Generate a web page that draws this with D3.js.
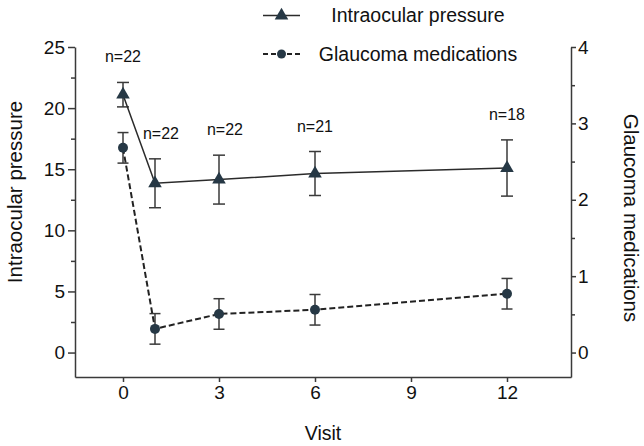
<!DOCTYPE html>
<html><head><meta charset="utf-8">
<script src="https://cdn.jsdelivr.net/npm/d3@7"></script>
<style>
body{margin:0;background:#fff}
svg{display:block;font-family:"Liberation Sans",Arial,Helvetica,sans-serif}
</style></head>
<body><svg id="c" width="644" height="446"></svg>
<script>
const visits = [0, 1, 3, 6, 12];
const iopMean = [21.1, 13.85, 14.15, 14.65, 15.1];
const iopErr = [1.0, 2.0, 2.0, 1.8, 2.3];
const medMean = [2.68, 0.31, 0.505, 0.56, 0.77];
const medErr = [0.2, 0.2, 0.2, 0.2, 0.2];
const nLabels = ["n=22", "n=22", "n=22", "n=21", "n=18"];
const xTicks = [0, 3, 6, 9, 12];
const leftTicks = [0, 5, 10, 15, 20, 25];
const leftMinor = [2.5, 7.5, 12.5, 17.5, 22.5];
const rightTicks = [0, 1, 2, 3, 4];
const rightMinor = [0.5, 1.5, 2.5, 3.5];
const seriesNames = ["Intraocular pressure", "Glaucoma medications"];

const svg = d3.select("#c");
const x = d3.scaleLinear([-1.5, 14], [75, 571]);
const yL = d3.scaleLinear([-2, 25], [377, 47]);
const yR = d3.scaleLinear([-0.32, 4], [377, 47]);
const axisCol = "#3a3a3a", markCol = "#263845", lineCol = "#2b2b2b";

function styleAxis(g){
  g.selectAll("path,line").attr("stroke", axisCol).attr("stroke-width", 1.5);
  g.selectAll("text").attr("fill", "#111").attr("font-size", 19).attr("font-family", "Liberation Sans, Arial, sans-serif");
}
// left axis
svg.append("g").attr("transform", "translate(75,0)")
  .call(d3.axisLeft(yL).tickValues(leftTicks).tickSize(7).tickSizeOuter(0).tickPadding(3).tickFormat(d3.format("d")))
  .call(styleAxis);
svg.append("g").attr("transform", "translate(75,0)")
  .call(d3.axisLeft(yL).tickValues(leftMinor).tickSize(4).tickFormat("").tickSizeOuter(0))
  .call(g => g.select(".domain").remove()).call(styleAxis);
// right axis
svg.append("g").attr("transform", "translate(571,0)")
  .call(d3.axisRight(yR).tickValues(rightTicks).tickSize(5).tickSizeOuter(0).tickPadding(2).tickFormat(d3.format("d")))
  .call(styleAxis);
svg.append("g").attr("transform", "translate(571,0)")
  .call(d3.axisRight(yR).tickValues(rightMinor).tickSize(4).tickFormat("").tickSizeOuter(0))
  .call(g => g.select(".domain").remove()).call(styleAxis);
// x axis
svg.append("g").attr("transform", "translate(0,377)")
  .call(d3.axisBottom(x).tickValues(xTicks).tickSize(5).tickSizeOuter(0).tickPadding(4).tickFormat(d3.format("d")))
  .call(styleAxis);

// axis titles
svg.append("text").attr("x", 323).attr("y", 440).attr("text-anchor", "middle")
  .attr("font-size", 19.5).attr("fill", "#111").text("Visit");
svg.append("text").attr("transform", "translate(22,192) rotate(-90)").attr("text-anchor", "middle")
  .attr("font-size", 20.5).attr("fill", "#111").text("Intraocular pressure");
svg.append("text").attr("transform", "translate(624,218) rotate(90)").attr("text-anchor", "middle")
  .attr("font-size", 20.5).attr("fill", "#111").text("Glaucoma medications");

const iop = visits.map((v, i) => ({v, m: iopMean[i], e: iopErr[i], n: nLabels[i]}));
const med = visits.map((v, i) => ({v, m: medMean[i], e: medErr[i]}));

function errBars(data, y, cap){
  const g = svg.append("g").attr("stroke", "#3a3a3a").attr("stroke-width", 1.5);
  data.forEach(d => {
    const cx = x(d.v);
    g.append("line").attr("x1", cx).attr("x2", cx).attr("y1", y(d.m - d.e)).attr("y2", y(d.m + d.e));
    g.append("line").attr("x1", cx - cap).attr("x2", cx + cap).attr("y1", y(d.m + d.e)).attr("y2", y(d.m + d.e));
    g.append("line").attr("x1", cx - cap).attr("x2", cx + cap).attr("y1", y(d.m - d.e)).attr("y2", y(d.m - d.e));
  });
}
errBars(iop, yL, 6);
errBars(med, yR, 5.5);

svg.append("path").datum(iop).attr("fill", "none").attr("stroke", lineCol).attr("stroke-width", 1.5)
  .attr("d", d3.line().x(d => x(d.v)).y(d => yL(d.m)));
svg.append("path").datum(med).attr("fill", "none").attr("stroke", "#222").attr("stroke-width", 2)
  .attr("stroke-dasharray", "6,3")
  .attr("d", d3.line().x(d => x(d.v)).y(d => yR(d.m)));

const tri = d3.symbol().type(d3.symbolTriangle).size(80);
svg.append("g").selectAll("path").data(iop).join("path")
  .attr("transform", d => `translate(${x(d.v)},${yL(d.m)})`).attr("d", tri).attr("fill", markCol);
svg.append("g").selectAll("circle").data(med).join("circle")
  .attr("cx", d => x(d.v)).attr("cy", d => yR(d.m)).attr("r", 5).attr("fill", markCol);

svg.append("g").selectAll("text").data(iop).join("text")
  .attr("x", d => x(d.v) + (d.v === 1 || d.v === 3 ? 6 : 0)).attr("y", d => yL(d.m + d.e) - 20).attr("text-anchor", "middle")
  .attr("font-size", 16).attr("fill", "#111").text(d => d.n);

// legend
const lg = svg.append("g");
lg.append("line").attr("x1", 263).attr("x2", 300).attr("y1", 15.5).attr("y2", 15.5).attr("stroke", lineCol).attr("stroke-width", 1.5);
lg.append("path").attr("transform", "translate(281.5,15.5)").attr("d", tri).attr("fill", markCol);
lg.append("text").attr("x", 418).attr("y", 22).attr("text-anchor", "middle").attr("font-size", 19.5).attr("fill", "#111").text(seriesNames[0]);
lg.append("line").attr("x1", 263).attr("x2", 300).attr("y1", 54).attr("y2", 54).attr("stroke", "#222").attr("stroke-width", 2).attr("stroke-dasharray", "5,3");
lg.append("circle").attr("cx", 281.5).attr("cy", 54).attr("r", 4.5).attr("fill", markCol);
lg.append("text").attr("x", 418).attr("y", 61).attr("text-anchor", "middle").attr("font-size", 19.5).attr("fill", "#111").text(seriesNames[1]);
</script></body></html>
